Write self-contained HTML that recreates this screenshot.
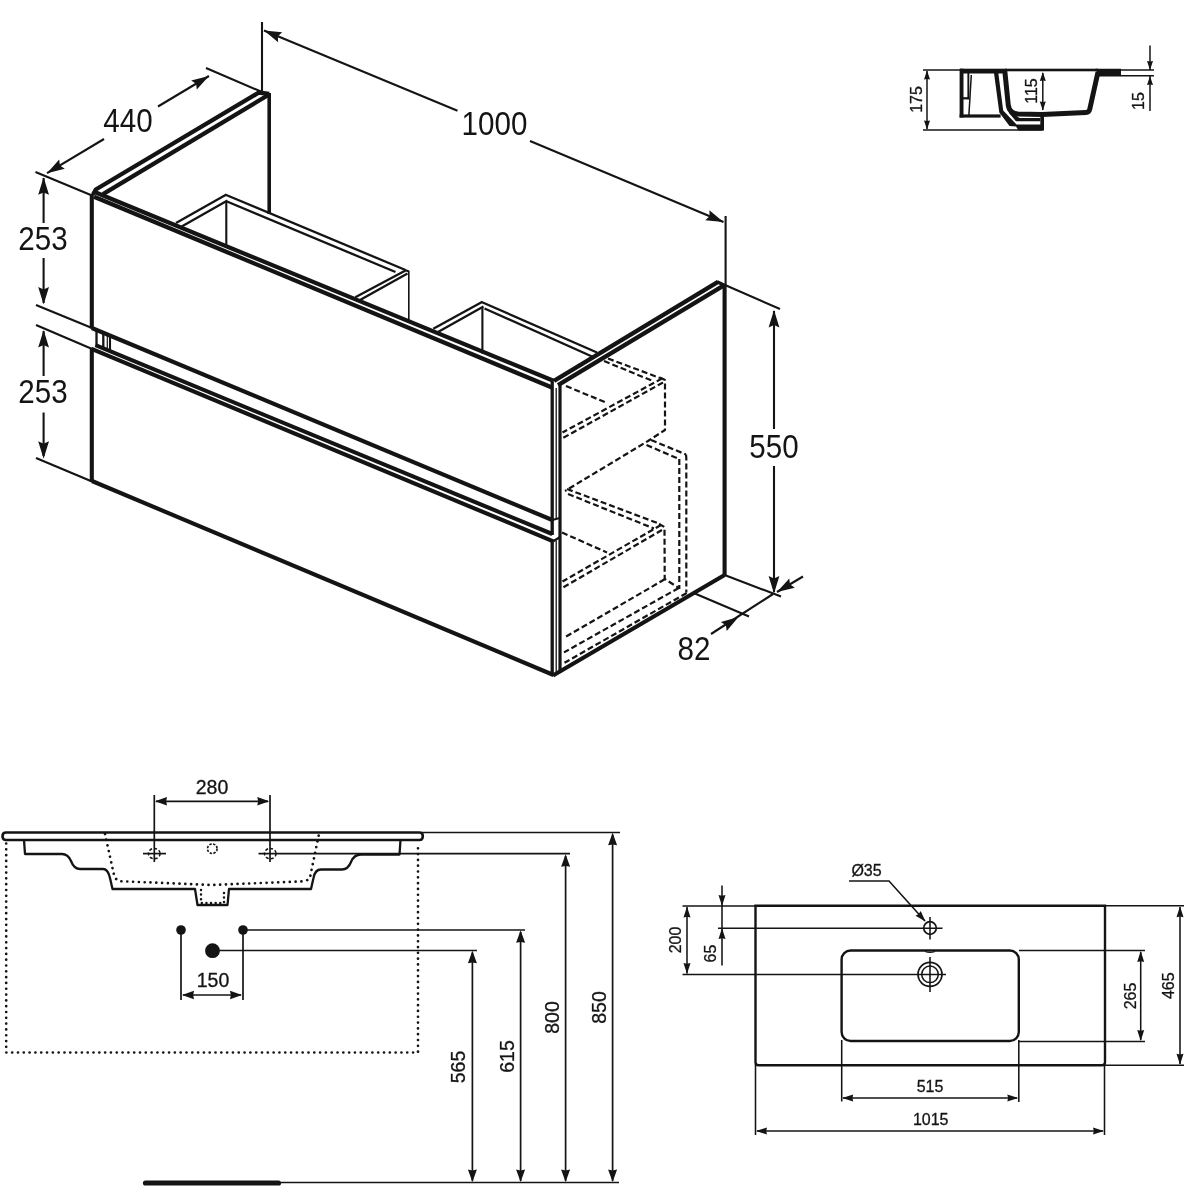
<!DOCTYPE html>
<html><head><meta charset="utf-8"><title>Technical drawing</title>
<style>
html,body{margin:0;padding:0;background:#fff;}
body{width:1200px;height:1200px;overflow:hidden;}
svg{display:block;font-family:"Liberation Sans",sans-serif;filter:grayscale(1) blur(0.45px);}
</style></head>
<body>
<svg width="1200" height="1200" viewBox="0 0 1200 1200" stroke="#141414" fill="none">
<rect x="0" y="0" width="1200" height="1200" fill="#ffffff" stroke="none"/>
<line x1="91.8" y1="194" x2="91.8" y2="328.5" stroke-width="4.1" stroke-linecap="butt"/>
<line x1="91.8" y1="348.5" x2="91.8" y2="482" stroke-width="4.1" stroke-linecap="butt"/>
<line x1="95.8" y1="192.5" x2="554" y2="381" stroke-width="4.3" stroke-linecap="butt"/>
<line x1="94" y1="196.7" x2="552" y2="387.5" stroke-width="4.3" stroke-linecap="butt"/>
<polyline points="93,194.5 95.8,189.5 259,92.5 269.2,94" stroke-width="4.3" stroke-linejoin="miter" stroke-linecap="butt" fill="none"/>
<line x1="103" y1="194.2" x2="267.5" y2="95.5" stroke-width="4.3" stroke-linecap="butt"/>
<line x1="269.2" y1="93" x2="269.2" y2="214" stroke-width="3.6" stroke-linecap="butt"/>
<line x1="91.8" y1="328" x2="552.3" y2="520" stroke-width="4.1" stroke-linecap="butt"/>
<line x1="96.5" y1="330" x2="96.5" y2="346.5" stroke-width="2.3" stroke-linecap="butt"/>
<line x1="103.3" y1="333" x2="103.3" y2="349.5" stroke-width="2.3" stroke-linecap="butt"/>
<line x1="107.3" y1="335" x2="107.3" y2="351" stroke-width="1.2" stroke-linecap="butt"/>
<line x1="110" y1="336.5" x2="110" y2="352.5" stroke-width="2.1" stroke-linecap="butt"/>
<line x1="95.5" y1="345.2" x2="552.3" y2="534" stroke-width="4.1" stroke-linecap="butt"/>
<line x1="91" y1="348.7" x2="553.3" y2="541.3" stroke-width="4.1" stroke-linecap="butt"/>
<line x1="92" y1="481" x2="553.5" y2="675" stroke-width="4.1" stroke-linecap="butt"/>
<line x1="552.2" y1="382" x2="552.2" y2="535" stroke-width="3.3" stroke-linecap="butt"/>
<line x1="552.2" y1="540" x2="552.2" y2="675" stroke-width="3.3" stroke-linecap="butt"/>
<line x1="556.2" y1="388" x2="556.2" y2="518.5" stroke-width="1.3" stroke-linecap="butt"/>
<line x1="556.2" y1="540.5" x2="556.2" y2="673" stroke-width="1.3" stroke-linecap="butt"/>
<line x1="560" y1="385" x2="560" y2="673" stroke-width="3.2" stroke-linecap="butt"/>
<path d="M552.3,520 L559.7,518 M553.3,541.3 L559.7,537.3" stroke-width="2.3" fill="none" stroke-linejoin="round" stroke-linecap="butt"/>
<line x1="554" y1="380.8" x2="718" y2="281.8" stroke-width="4.3" stroke-linecap="butt"/>
<line x1="558" y1="385.2" x2="723.5" y2="285.6" stroke-width="4.3" stroke-linecap="butt"/>
<line x1="717" y1="281.8" x2="725" y2="285.5" stroke-width="3.4" stroke-linecap="butt"/>
<line x1="724.6" y1="285" x2="724.6" y2="575.5" stroke-width="4.1" stroke-linecap="butt"/>
<line x1="553" y1="675.5" x2="724.6" y2="575" stroke-width="4.1" stroke-linecap="butt"/>
<line x1="226" y1="194.7" x2="176" y2="223" stroke-width="2.3" stroke-linecap="butt"/>
<line x1="227.5" y1="200.5" x2="181.7" y2="226.5" stroke-width="2.3" stroke-linecap="butt"/>
<line x1="225" y1="194.5" x2="405.5" y2="270" stroke-width="2.3" stroke-linecap="butt"/>
<line x1="227" y1="201.5" x2="395.5" y2="272" stroke-width="2.3" stroke-linecap="butt"/>
<line x1="405.5" y1="270.4" x2="355.3" y2="297.3" stroke-width="2.3" stroke-linecap="butt"/>
<line x1="407.5" y1="273.5" x2="360" y2="300" stroke-width="2.3" stroke-linecap="butt"/>
<line x1="405" y1="270" x2="409" y2="271.5" stroke-width="2.3" stroke-linecap="butt"/>
<line x1="226.3" y1="201" x2="226.3" y2="246" stroke-width="2.1" stroke-linecap="butt"/>
<line x1="408.8" y1="271" x2="408.8" y2="321.5" stroke-width="1.6" stroke-linecap="butt"/>
<line x1="482" y1="302" x2="433.3" y2="328.7" stroke-width="2.3" stroke-linecap="butt"/>
<line x1="483.5" y1="306.5" x2="438" y2="332" stroke-width="2.3" stroke-linecap="butt"/>
<line x1="481" y1="301.8" x2="597" y2="352.5" stroke-width="2.3" stroke-linecap="butt"/>
<line x1="484.5" y1="308.5" x2="592" y2="356.5" stroke-width="2.3" stroke-linecap="butt"/>
<line x1="482.4" y1="307" x2="482.4" y2="353.5" stroke-width="2.1" stroke-linecap="butt"/>
<line x1="566" y1="386" x2="607" y2="403" stroke-width="2.2" stroke-dasharray="6 3" stroke-linecap="butt"/>
<line x1="608" y1="358.5" x2="660" y2="378" stroke-width="2.2" stroke-dasharray="6 3" stroke-linecap="butt"/>
<line x1="604" y1="361" x2="654" y2="381.5" stroke-width="2.2" stroke-dasharray="6 3" stroke-linecap="butt"/>
<line x1="662" y1="378.5" x2="562.5" y2="432.5" stroke-width="2.2" stroke-dasharray="6 3" stroke-linecap="butt"/>
<line x1="663" y1="382.5" x2="563" y2="438" stroke-width="2.2" stroke-dasharray="6 3" stroke-linecap="butt"/>
<polyline points="660,377.5 665,380 665,430 648,441 565,491" stroke-width="2.2" stroke-dasharray="6 3" stroke-linejoin="round" stroke-linecap="butt" fill="none"/>
<line x1="651" y1="440" x2="686" y2="454.5" stroke-width="2.2" stroke-dasharray="6 3" stroke-linecap="butt"/>
<line x1="646.5" y1="445" x2="679" y2="459" stroke-width="2.2" stroke-dasharray="6 3" stroke-linecap="butt"/>
<polyline points="686,454.5 686.3,458 686.3,592.5" stroke-width="2.2" stroke-dasharray="6 3" stroke-linejoin="miter" stroke-linecap="butt" fill="none"/>
<line x1="679.3" y1="459" x2="679.3" y2="589" stroke-width="2.2" stroke-dasharray="6 3" stroke-linecap="butt"/>
<line x1="567" y1="489" x2="660" y2="524" stroke-width="2.2" stroke-dasharray="6 3" stroke-linecap="butt"/>
<line x1="568" y1="494" x2="654" y2="528.5" stroke-width="2.2" stroke-dasharray="6 3" stroke-linecap="butt"/>
<line x1="661" y1="525" x2="562.5" y2="581.5" stroke-width="2.2" stroke-dasharray="6 3" stroke-linecap="butt"/>
<line x1="662" y1="530" x2="563" y2="587.5" stroke-width="2.2" stroke-dasharray="6 3" stroke-linecap="butt"/>
<line x1="562" y1="532.5" x2="607" y2="552.5" stroke-width="2.2" stroke-dasharray="6 3" stroke-linecap="butt"/>
<polyline points="659,524 664.5,527 664.7,579 679,588" stroke-width="2.2" stroke-dasharray="6 3" stroke-linejoin="miter" stroke-linecap="butt" fill="none"/>
<line x1="664.7" y1="579.3" x2="564" y2="637.8" stroke-width="2.2" stroke-dasharray="6 3" stroke-linecap="butt"/>
<line x1="678.7" y1="588" x2="564" y2="652.4" stroke-width="2.2" stroke-dasharray="6 3" stroke-linecap="butt"/>
<line x1="686.7" y1="593" x2="564.5" y2="662.8" stroke-width="2.2" stroke-dasharray="6 3" stroke-linecap="butt"/>
<line x1="35.5" y1="172" x2="92" y2="195.5" stroke-width="2.1" stroke-linecap="butt"/>
<line x1="206" y1="68" x2="262" y2="92" stroke-width="2.1" stroke-linecap="butt"/>
<line x1="47" y1="173.2" x2="104" y2="139" stroke-width="2.1" stroke-linecap="butt"/>
<line x1="158" y1="106.5" x2="209" y2="76" stroke-width="2.1" stroke-linecap="butt"/>
<polygon points="47.0,173.2 59.2,159.6 59.9,165.5 64.8,168.8" fill="#141414" stroke="none"/>
<polygon points="209.0,76.0 196.8,89.6 196.1,83.7 191.2,80.4" fill="#141414" stroke="none"/>
<text x="0" y="0" font-size="29.6" text-anchor="middle" transform="translate(128 132) scale(1 1.1)" fill="#141414" stroke="none">440</text>
<line x1="262" y1="22" x2="262" y2="91.5" stroke-width="2.1" stroke-linecap="butt"/>
<line x1="264" y1="30.5" x2="457.5" y2="110.7" stroke-width="2.1" stroke-linecap="butt"/>
<line x1="530" y1="141" x2="723.5" y2="222" stroke-width="2.1" stroke-linecap="butt"/>
<polygon points="264.0,30.5 282.2,32.2 277.9,36.3 278.1,42.2" fill="#141414" stroke="none"/>
<polygon points="723.5,222.0 705.3,220.3 709.6,216.2 709.4,210.3" fill="#141414" stroke="none"/>
<text x="0" y="0" font-size="29.6" text-anchor="middle" transform="translate(494.5 135) scale(1 1.1)" fill="#141414" stroke="none">1000</text>
<line x1="725.6" y1="216" x2="725.6" y2="285" stroke-width="2.1" stroke-linecap="butt"/>
<line x1="43.6" y1="178" x2="43.6" y2="223" stroke-width="2.1" stroke-linecap="butt"/>
<line x1="43.6" y1="258" x2="43.6" y2="303" stroke-width="2.1" stroke-linecap="butt"/>
<polygon points="43.6,177.3 49.0,194.8 43.6,192.4 38.2,194.8" fill="#141414" stroke="none"/>
<polygon points="43.6,304.5 38.2,287.0 43.6,289.4 49.0,287.0" fill="#141414" stroke="none"/>
<text x="0" y="0" font-size="29.6" text-anchor="middle" transform="translate(43 249.5) scale(1 1.1)" fill="#141414" stroke="none">253</text>
<line x1="36" y1="305" x2="92" y2="328" stroke-width="2.1" stroke-linecap="butt"/>
<line x1="36" y1="325" x2="91" y2="348.5" stroke-width="2.1" stroke-linecap="butt"/>
<line x1="43.6" y1="331" x2="43.6" y2="376" stroke-width="2.1" stroke-linecap="butt"/>
<line x1="43.6" y1="412.5" x2="43.6" y2="456" stroke-width="2.1" stroke-linecap="butt"/>
<polygon points="43.6,330.0 49.0,347.5 43.6,345.1 38.2,347.5" fill="#141414" stroke="none"/>
<polygon points="43.6,458.8 38.2,441.3 43.6,443.8 49.0,441.3" fill="#141414" stroke="none"/>
<text x="0" y="0" font-size="29.6" text-anchor="middle" transform="translate(43 403) scale(1 1.1)" fill="#141414" stroke="none">253</text>
<line x1="36" y1="458" x2="92" y2="481.5" stroke-width="2.1" stroke-linecap="butt"/>
<line x1="725" y1="285" x2="780" y2="309" stroke-width="2.1" stroke-linecap="butt"/>
<line x1="774" y1="311" x2="774" y2="429" stroke-width="2.1" stroke-linecap="butt"/>
<line x1="774" y1="466" x2="774" y2="592" stroke-width="2.1" stroke-linecap="butt"/>
<polygon points="774.0,310.0 779.4,327.5 774.0,325.1 768.6,327.5" fill="#141414" stroke="none"/>
<polygon points="774.0,593.5 768.6,576.0 774.0,578.5 779.4,576.0" fill="#141414" stroke="none"/>
<text x="0" y="0" font-size="29.6" text-anchor="middle" transform="translate(774 458) scale(1 1.1)" fill="#141414" stroke="none">550</text>
<line x1="724.6" y1="575" x2="781" y2="596.5" stroke-width="2.1" stroke-linecap="butt"/>
<line x1="692.5" y1="592.5" x2="749" y2="616.5" stroke-width="2.1" stroke-linecap="butt"/>
<line x1="711" y1="634" x2="773" y2="594" stroke-width="2.1" stroke-linecap="butt"/>
<polygon points="738.5,617.0 726.7,631.0 725.9,625.2 720.9,621.9" fill="#141414" stroke="none"/>
<line x1="777" y1="592" x2="803" y2="576.5" stroke-width="2.1" stroke-linecap="butt"/>
<polygon points="777.0,592.0 789.3,578.4 789.9,584.3 794.8,587.7" fill="#141414" stroke="none"/>
<text x="0" y="0" font-size="29.6" text-anchor="middle" transform="translate(694 659.5) scale(1 1.1)" fill="#141414" stroke="none">82</text>
<line x1="923" y1="70" x2="1120" y2="70" stroke-width="1.5" stroke-linecap="butt"/>
<line x1="923" y1="130" x2="1042.5" y2="130" stroke-width="1.5" stroke-linecap="butt"/>
<line x1="927" y1="71" x2="927" y2="129" stroke-width="1.5" stroke-linecap="butt"/>
<polygon points="927.0,70.5 930.0,79.5 927.0,78.9 924.0,79.5" fill="#141414" stroke="none"/>
<polygon points="927.0,129.5 924.0,120.5 927.0,121.1 930.0,120.5" fill="#141414" stroke="none"/>
<text x="921.5" y="99.5" font-size="16" text-anchor="middle" transform="rotate(-90 921.5 99.5)" fill="#141414" stroke="#141414" stroke-width="0.30">175</text>
<g fill="#141414" stroke="none">
<rect x="960" y="68.7" width="46.5" height="4.8"/>
<rect x="1005" y="68.7" width="93" height="2.6"/>
<rect x="959.6" y="68.7" width="3.9" height="48.8"/>
<rect x="959.6" y="114.4" width="41" height="3.2"/>
<rect x="967.4" y="73" width="1.9" height="26.3"/>
<rect x="962" y="97.2" width="7.3" height="2.2"/>
<path d="M994,73 L999.3,112.5 L1009.5,126 L1016,126.6 L1018.5,130.6 L1044,130.6 L1044,117 L1040.3,117 L1040.3,124.4 L1016.5,124.4 L1003.2,110.5 L998.3,73 Z"/>
<path d="M1009,113 L1016,121.3 L1040.3,121.3 L1040.3,117.9 L1019.5,117.9 L1015,115 Z"/>
<path d="M1095.5,68.7 L1121,68.7 L1121,76.6 L1098.5,76.6 Z"/>
</g>
<path d="M971.3,75 L968.9,115" stroke-width="1.5" fill="none" stroke-linejoin="round" stroke-linecap="butt"/>
<path d="M1004.8,71 L1008.3,105.5 Q1009.6,113.6 1018,114.1 L1042,114.6 L1086,112.6 Q1089,112.4 1089.8,109 L1098,72" stroke-width="5.0" fill="none" stroke-linejoin="round" stroke-linecap="butt"/>
<line x1="1121" y1="69.9" x2="1154" y2="69.9" stroke-width="1.5" stroke-linecap="butt"/>
<line x1="1121" y1="75.8" x2="1154" y2="75.8" stroke-width="1.5" stroke-linecap="butt"/>
<line x1="1042.8" y1="73" x2="1042.8" y2="110" stroke-width="1.5" stroke-linecap="butt"/>
<polygon points="1042.8,72.0 1045.8,81.0 1042.8,80.4 1039.8,81.0" fill="#141414" stroke="none"/>
<polygon points="1042.8,110.5 1039.8,101.5 1042.8,102.1 1045.8,101.5" fill="#141414" stroke="none"/>
<text x="1036.5" y="91" font-size="16" text-anchor="middle" transform="rotate(-90 1036.5 91)" fill="#141414" stroke="#141414" stroke-width="0.30">115</text>
<line x1="1150" y1="45.5" x2="1150" y2="70" stroke-width="1.5" stroke-linecap="butt"/>
<polygon points="1150.0,70.0 1147.0,61.0 1150.0,61.6 1153.0,61.0" fill="#141414" stroke="none"/>
<line x1="1150" y1="76" x2="1150" y2="111" stroke-width="1.5" stroke-linecap="butt"/>
<polygon points="1150.0,76.0 1153.0,85.0 1150.0,84.4 1147.0,85.0" fill="#141414" stroke="none"/>
<text x="1143.5" y="101" font-size="16" text-anchor="middle" transform="rotate(-90 1143.5 101)" fill="#141414" stroke="#141414" stroke-width="0.30">15</text>
<path d="M6,832.5 L419.5,832.5 Q422.8,832.5 422.8,836.2 Q422.8,840 419.5,840 L6,840 Q2.5,840 2.5,836.2 Q2.5,832.5 6,832.5 Z" stroke-width="2.6" fill="none" stroke-linejoin="round" stroke-linecap="butt"/>
<path d="M24,840 L25,854 L62,854 Q68,854 71,861 Q74,869 80,869 L103,869 Q108,869 110,878 L112.5,889 L195,889 L197.5,905 L227.5,905 L229,889 L311,889 L313.5,878 Q315,869.5 321,869.5 L342,869.5 Q348,869.5 351,862 Q354,854.5 361,854.5 L399.5,854.5 L400.5,840" stroke-width="2.3" fill="none" stroke-linejoin="round" stroke-linecap="butt"/>
<path d="M105,834 L114,875 Q115.5,881 122,881.3 L212,885 L303,881.3 Q309.5,881 310.5,875 L319,834" stroke-width="2.7" stroke-dasharray="0.01 5.8" fill="none" stroke-linejoin="round" stroke-linecap="round"/>
<path d="M201,890 L201,903 L224,903 L224,890" stroke-width="2.5" stroke-dasharray="0.01 4.6" fill="none" stroke-linejoin="round" stroke-linecap="round"/>
<path d="M6.2,843.5 L6.2,1052.5 L418,1052.5 L418,843.5" stroke-width="2.7" stroke-dasharray="0.01 5.8" fill="none" stroke-linejoin="round" stroke-linecap="round"/>
<line x1="154.3" y1="795" x2="154.3" y2="862" stroke-width="1.7" stroke-linecap="butt"/>
<line x1="270" y1="795" x2="270" y2="862" stroke-width="1.7" stroke-linecap="butt"/>
<line x1="156" y1="801.3" x2="268" y2="801.3" stroke-width="1.7" stroke-linecap="butt"/>
<polygon points="155.0,801.3 167.0,797.1 166.2,801.3 167.0,805.5" fill="#141414" stroke="none"/>
<polygon points="269.3,801.3 257.3,805.5 258.1,801.3 257.3,797.1" fill="#141414" stroke="none"/>
<text x="212" y="793.8" font-size="19.5" text-anchor="middle" fill="#141414" stroke="#141414" stroke-width="0.30">280</text>
<ellipse cx="154.3" cy="853.6" rx="5.8" ry="5.2" fill="none" stroke-width="1.5" stroke-dasharray="3 2"/>
<ellipse cx="270.3" cy="853.6" rx="5.8" ry="5.2" fill="none" stroke-width="1.5" stroke-dasharray="3 2"/>
<line x1="143" y1="853.6" x2="166" y2="853.6" stroke-width="1.7" stroke-linecap="butt"/>
<line x1="258.5" y1="853.6" x2="570" y2="853.6" stroke-width="1.7" stroke-linecap="butt"/>
<circle cx="212.3" cy="848.7" r="4.8" fill="none" stroke-width="1.6" stroke-dasharray="2.4 1.4"/>
<circle cx="181" cy="930" r="4.8" fill="#141414" stroke="none"/>
<circle cx="243" cy="930" r="4.8" fill="#141414" stroke="none"/>
<circle cx="212.5" cy="950.7" r="7.4" fill="#141414" stroke="none"/>
<line x1="181" y1="930" x2="181" y2="1000" stroke-width="1.7" stroke-linecap="butt"/>
<line x1="243" y1="930" x2="243" y2="1000" stroke-width="1.7" stroke-linecap="butt"/>
<line x1="183" y1="995" x2="241" y2="995" stroke-width="1.7" stroke-linecap="butt"/>
<polygon points="182.0,995.0 194.0,990.8 193.2,995.0 194.0,999.2" fill="#141414" stroke="none"/>
<polygon points="242.0,995.0 230.0,999.2 230.8,995.0 230.0,990.8" fill="#141414" stroke="none"/>
<text x="213" y="987.3" font-size="19.5" text-anchor="middle" fill="#141414" stroke="#141414" stroke-width="0.30">150</text>
<line x1="422" y1="832.5" x2="620" y2="832.5" stroke-width="1.7" stroke-linecap="butt"/>
<line x1="243" y1="930" x2="525" y2="930" stroke-width="1.7" stroke-linecap="butt"/>
<line x1="212" y1="950.5" x2="477" y2="950.5" stroke-width="1.7" stroke-linecap="butt"/>
<line x1="145.5" y1="1183" x2="278.5" y2="1183" stroke-width="5.2" stroke-linecap="round"/>
<line x1="281" y1="1182.5" x2="619" y2="1182.5" stroke-width="1.7" stroke-linecap="butt"/>
<line x1="472.4" y1="952.5" x2="472.4" y2="1181" stroke-width="1.7" stroke-linecap="butt"/>
<polygon points="472.4,950.8 476.9,963.3 472.4,962.4 467.9,963.3" fill="#141414" stroke="none"/>
<polygon points="472.4,1182.0 467.9,1169.5 472.4,1170.4 476.9,1169.5" fill="#141414" stroke="none"/>
<line x1="520.6" y1="932" x2="520.6" y2="1181" stroke-width="1.7" stroke-linecap="butt"/>
<polygon points="520.6,930.3 525.1,942.8 520.6,941.9 516.1,942.8" fill="#141414" stroke="none"/>
<polygon points="520.6,1182.0 516.1,1169.5 520.6,1170.4 525.1,1169.5" fill="#141414" stroke="none"/>
<line x1="565.6" y1="856" x2="565.6" y2="1181" stroke-width="1.7" stroke-linecap="butt"/>
<polygon points="565.6,854.3 570.1,866.8 565.6,865.9 561.1,866.8" fill="#141414" stroke="none"/>
<polygon points="565.6,1182.0 561.1,1169.5 565.6,1170.4 570.1,1169.5" fill="#141414" stroke="none"/>
<line x1="612.6" y1="834.5" x2="612.6" y2="1181" stroke-width="1.7" stroke-linecap="butt"/>
<polygon points="612.6,832.8 617.1,845.3 612.6,844.4 608.1,845.3" fill="#141414" stroke="none"/>
<polygon points="612.6,1182.0 608.1,1169.5 612.6,1170.4 617.1,1169.5" fill="#141414" stroke="none"/>
<text x="464.5" y="1067" font-size="19.5" text-anchor="middle" transform="rotate(-90 464.5 1067)" fill="#141414" stroke="#141414" stroke-width="0.30">565</text>
<text x="514" y="1056.5" font-size="19.5" text-anchor="middle" transform="rotate(-90 514 1056.5)" fill="#141414" stroke="#141414" stroke-width="0.30">615</text>
<text x="559" y="1017.5" font-size="19.5" text-anchor="middle" transform="rotate(-90 559 1017.5)" fill="#141414" stroke="#141414" stroke-width="0.30">800</text>
<text x="605.5" y="1007.5" font-size="19.5" text-anchor="middle" transform="rotate(-90 605.5 1007.5)" fill="#141414" stroke="#141414" stroke-width="0.30">850</text>
<path d="M755.5,905.7 L1105,905.7 L1105,1062.3 Q1105,1065.3 1102,1065.3 L758.5,1065.3 Q755.5,1065.3 755.5,1062.3 Z" stroke-width="2.4" fill="none" stroke-linejoin="miter" stroke-linecap="butt"/>
<rect x="841.6" y="950.5" width="177.2" height="90.5" rx="9" fill="none" stroke-width="2.4"/>
<line x1="682.5" y1="906" x2="755" y2="906" stroke-width="1.55" stroke-linecap="butt"/>
<line x1="718" y1="928.2" x2="942.5" y2="928.2" stroke-width="1.55" stroke-linecap="butt"/>
<line x1="682.5" y1="974.5" x2="946" y2="974.5" stroke-width="1.55" stroke-linecap="butt"/>
<line x1="687" y1="907" x2="687" y2="973.5" stroke-width="1.55" stroke-linecap="butt"/>
<polygon points="687.0,906.5 690.5,917.5 687.0,916.7 683.5,917.5" fill="#141414" stroke="none"/>
<polygon points="687.0,974.0 683.5,963.0 687.0,963.8 690.5,963.0" fill="#141414" stroke="none"/>
<text x="681" y="940" font-size="16" text-anchor="middle" transform="rotate(-90 681 940)" fill="#141414" stroke="#141414" stroke-width="0.30">200</text>
<line x1="722" y1="885.4" x2="722" y2="965.4" stroke-width="1.55" stroke-linecap="butt"/>
<polygon points="722.0,906.0 718.5,895.0 722.0,895.8 725.5,895.0" fill="#141414" stroke="none"/>
<polygon points="722.0,928.0 725.5,939.0 722.0,938.2 718.5,939.0" fill="#141414" stroke="none"/>
<text x="716" y="953.5" font-size="16" text-anchor="middle" transform="rotate(-90 716 953.5)" fill="#141414" stroke="#141414" stroke-width="0.30">65</text>
<text x="866.5" y="876" font-size="16" text-anchor="middle" fill="#141414" stroke="#141414" stroke-width="0.30">Ø35</text>
<polyline points="849,881 889,881 925,921" stroke-width="1.55" stroke-linejoin="miter" stroke-linecap="butt" fill="none"/>
<polygon points="925.5,921.5 915.5,915.7 918.7,913.9 920.7,911.0" fill="#141414" stroke="none"/>
<circle cx="930" cy="928" r="6.3" fill="none" stroke-width="1.7"/>
<line x1="930" y1="917" x2="930" y2="939.5" stroke-width="1.55" stroke-linecap="butt"/>
<circle cx="930" cy="974.3" r="12" fill="none" stroke-width="1.7"/>
<circle cx="930" cy="974.3" r="8.3" fill="none" stroke-width="1.5"/>
<line x1="930" y1="957" x2="930" y2="992" stroke-width="1.55" stroke-linecap="butt"/>
<path d="M925,951.5 Q930,953.5 935,951.5" stroke-width="1.2" fill="none" stroke-linejoin="round" stroke-linecap="butt"/>
<line x1="1105" y1="905.7" x2="1184" y2="905.7" stroke-width="1.55" stroke-linecap="butt"/>
<line x1="1105" y1="1065.3" x2="1184" y2="1065.3" stroke-width="1.55" stroke-linecap="butt"/>
<line x1="1019" y1="950.5" x2="1145" y2="950.5" stroke-width="1.55" stroke-linecap="butt"/>
<line x1="1019" y1="1041.5" x2="1145" y2="1041.5" stroke-width="1.55" stroke-linecap="butt"/>
<line x1="1140.7" y1="952" x2="1140.7" y2="1040" stroke-width="1.55" stroke-linecap="butt"/>
<polygon points="1140.7,951.0 1144.2,962.0 1140.7,961.2 1137.2,962.0" fill="#141414" stroke="none"/>
<polygon points="1140.7,1041.0 1137.2,1030.0 1140.7,1030.8 1144.2,1030.0" fill="#141414" stroke="none"/>
<line x1="1180" y1="907" x2="1180" y2="1064" stroke-width="1.55" stroke-linecap="butt"/>
<polygon points="1180.0,906.2 1183.5,917.2 1180.0,916.4 1176.5,917.2" fill="#141414" stroke="none"/>
<polygon points="1180.0,1064.8 1176.5,1053.8 1180.0,1054.6 1183.5,1053.8" fill="#141414" stroke="none"/>
<text x="1135.5" y="996" font-size="16" text-anchor="middle" transform="rotate(-90 1135.5 996)" fill="#141414" stroke="#141414" stroke-width="0.30">265</text>
<text x="1174.3" y="985.7" font-size="16" text-anchor="middle" transform="rotate(-90 1174.3 985.7)" fill="#141414" stroke="#141414" stroke-width="0.30">465</text>
<line x1="841.7" y1="1040" x2="841.7" y2="1101.5" stroke-width="1.55" stroke-linecap="butt"/>
<line x1="1018.8" y1="1040" x2="1018.8" y2="1102" stroke-width="1.55" stroke-linecap="butt"/>
<line x1="755.5" y1="1064" x2="755.5" y2="1135" stroke-width="1.55" stroke-linecap="butt"/>
<line x1="1104.5" y1="1064" x2="1104.5" y2="1135" stroke-width="1.55" stroke-linecap="butt"/>
<line x1="843" y1="1098" x2="1017" y2="1098" stroke-width="1.55" stroke-linecap="butt"/>
<polygon points="842.2,1098.0 853.2,1094.5 852.4,1098.0 853.2,1101.5" fill="#141414" stroke="none"/>
<polygon points="1018.3,1098.0 1007.3,1101.5 1008.1,1098.0 1007.3,1094.5" fill="#141414" stroke="none"/>
<line x1="757" y1="1131" x2="1103" y2="1131" stroke-width="1.55" stroke-linecap="butt"/>
<polygon points="756.0,1131.0 767.0,1127.5 766.2,1131.0 767.0,1134.5" fill="#141414" stroke="none"/>
<polygon points="1104.0,1131.0 1093.0,1134.5 1093.8,1131.0 1093.0,1127.5" fill="#141414" stroke="none"/>
<text x="930" y="1091.5" font-size="16" text-anchor="middle" fill="#141414" stroke="#141414" stroke-width="0.30">515</text>
<text x="930.7" y="1125" font-size="16" text-anchor="middle" fill="#141414" stroke="#141414" stroke-width="0.30">1015</text>
</svg>
</body></html>
